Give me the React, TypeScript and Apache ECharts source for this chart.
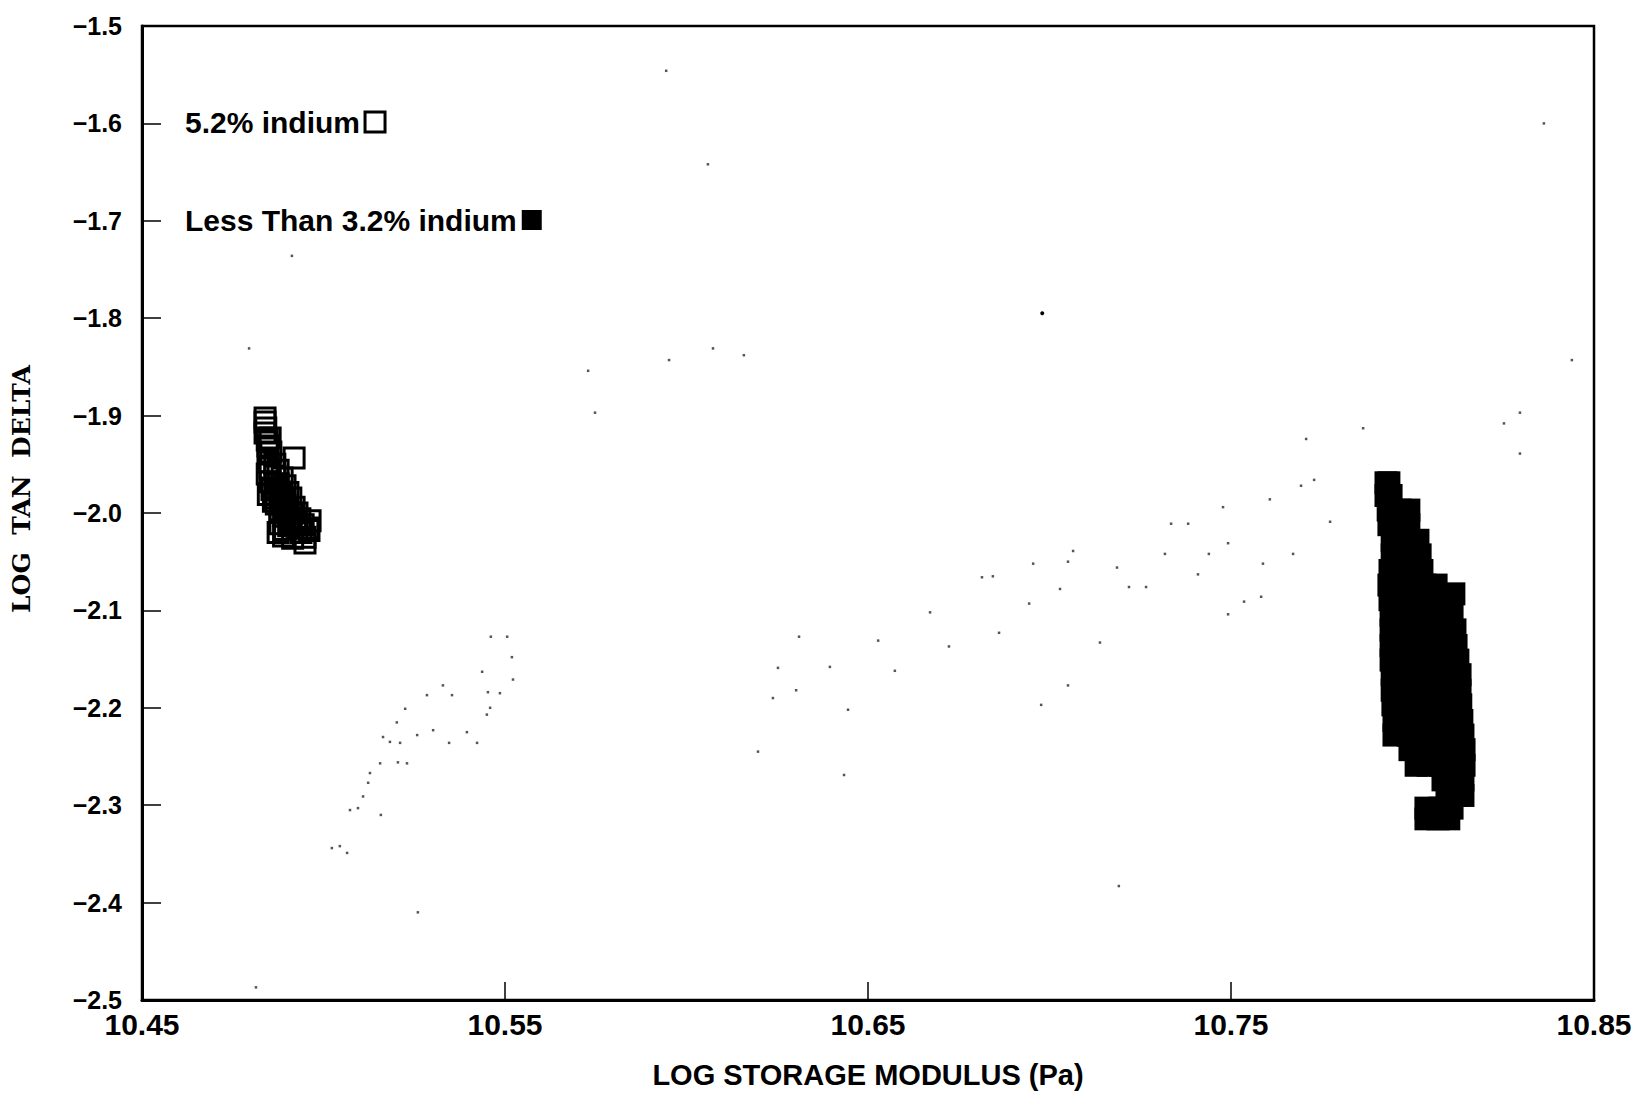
import React, { useEffect, useRef } from "react";
import * as echarts from "echarts";

const xTicks = [10.45, 10.55, 10.65, 10.75, 10.85];
const yTicks = [-1.5, -1.6, -1.7, -1.8, -1.9, -2.0, -2.1, -2.2, -2.3, -2.4, -2.5];

const openName = "5.2% indium";
const filledName = "Less Than 3.2% indium";

// 5.2% indium (open squares): [log storage modulus, log tan delta]
const openSquares: number[][] = [
  [10.4839, -1.9025], [10.4839, -1.9066], [10.4841, -1.9127], [10.4839, -1.9179],
  [10.4845, -1.9251], [10.4853, -1.923], [10.4847, -1.9312], [10.4855, -1.9374],
  [10.4919, -1.9435], [10.4847, -1.9476], [10.4866, -1.95], [10.4853, -1.9538],
  [10.4875, -1.956], [10.4845, -1.96], [10.4866, -1.962], [10.4886, -1.964],
  [10.4853, -1.968], [10.4875, -1.97], [10.4894, -1.972], [10.4858, -1.976],
  [10.488, -1.9784], [10.4902, -1.979], [10.4866, -1.9846], [10.489, -1.985],
  [10.491, -1.9846], [10.487, -1.9908], [10.4894, -1.992], [10.4919, -1.994],
  [10.488, -1.9969], [10.4902, -1.999], [10.4927, -2.0], [10.4935, -2.006],
  [10.489, -2.0031], [10.491, -2.0092], [10.4944, -2.012], [10.488, -2.011],
  [10.4927, -2.0154], [10.4957, -2.0154], [10.4875, -2.02], [10.489, -2.0236],
  [10.4949, -2.025], [10.4915, -2.026], [10.4949, -2.0308], [10.4963, -2.008],
  [10.496, -2.018], [10.4848, -1.981], [10.4862, -1.988], [10.4872, -1.974],
  [10.4885, -1.99], [10.4898, -1.996], [10.4912, -2.001], [10.4923, -2.007],
  [10.4904, -2.013], [10.4893, -2.017], [10.4938, -2.02], [10.4884, -1.982],
];

// Less than 3.2% indium (filled squares)
const filledSquares: number[][] = [
  [10.7927, -1.969], [10.7935, -1.969],
  [10.7927, -1.982], [10.7941, -1.982],
  [10.7933, -1.997], [10.7966, -1.997], [10.799, -1.997],
  [10.7935, -2.012], [10.7966, -2.012], [10.799, -2.012],
  [10.7944, -2.028], [10.7979, -2.028], [10.8015, -2.028],
  [10.7944, -2.043], [10.7979, -2.043], [10.8021, -2.043],
  [10.7938, -2.059], [10.7966, -2.059], [10.7999, -2.059], [10.8026, -2.059],
  [10.7935, -2.074], [10.7966, -2.074], [10.7999, -2.074], [10.8034, -2.074], [10.8065, -2.074],
  [10.8114, -2.083],
  [10.7938, -2.089], [10.7971, -2.089], [10.8004, -2.089], [10.8037, -2.089], [10.807, -2.089],
  [10.7941, -2.105], [10.7974, -2.105], [10.8007, -2.105], [10.804, -2.105], [10.8076, -2.105], [10.8109, -2.105],
  [10.7941, -2.12], [10.7974, -2.12], [10.8007, -2.12], [10.804, -2.12], [10.8076, -2.12], [10.8117, -2.12],
  [10.7941, -2.136], [10.7974, -2.136], [10.8007, -2.136], [10.8043, -2.136], [10.8081, -2.136], [10.812, -2.136],
  [10.7941, -2.151], [10.7977, -2.151], [10.8012, -2.151], [10.8048, -2.151], [10.8084, -2.151], [10.8125, -2.151],
  [10.7944, -2.166], [10.7979, -2.166], [10.8015, -2.166], [10.8051, -2.166], [10.8092, -2.166], [10.8131, -2.166],
  [10.7944, -2.182], [10.7979, -2.182], [10.8015, -2.182], [10.8051, -2.182], [10.8092, -2.182], [10.8131, -2.182],
  [10.7946, -2.197], [10.7982, -2.197], [10.8018, -2.197], [10.8054, -2.197], [10.8095, -2.197], [10.8133, -2.197],
  [10.7949, -2.213], [10.7985, -2.213], [10.8021, -2.213], [10.8056, -2.213], [10.8098, -2.213], [10.8136, -2.213],
  [10.7949, -2.228], [10.7988, -2.228], [10.8023, -2.228], [10.8059, -2.228], [10.81, -2.228], [10.8139, -2.228],
  [10.7993, -2.243], [10.8026, -2.243], [10.8065, -2.243], [10.8103, -2.243], [10.8142, -2.243],
  [10.801, -2.259], [10.8043, -2.259], [10.8076, -2.259], [10.8109, -2.259], [10.8142, -2.259],
  [10.8084, -2.274], [10.8111, -2.274], [10.8139, -2.274],
  [10.8095, -2.29], [10.812, -2.29], [10.8139, -2.29],
  [10.8037, -2.303], [10.8076, -2.303], [10.8109, -2.303],
  [10.8037, -2.314], [10.807, -2.314], [10.81, -2.314],
];

// faint specks scattered across the plot
const specks: number[][] = [
  [10.5023, -2.344], [10.5065, -2.349], [10.5073, -2.305], [10.5095, -2.303], [10.5109, -2.291],
  [10.5123, -2.277], [10.5128, -2.267], [10.5164, -2.23], [10.5183, -2.235], [10.5211, -2.236],
  [10.5156, -2.257], [10.5205, -2.256], [10.523, -2.257], [10.5225, -2.201], [10.5202, -2.215],
  [10.5285, -2.187], [10.5329, -2.177], [10.5354, -2.187], [10.5258, -2.228], [10.5302, -2.223],
  [10.5346, -2.236], [10.5395, -2.225], [10.545, -2.207], [10.5453, -2.184], [10.5437, -2.163],
  [10.5519, -2.148], [10.5506, -2.127], [10.5522, -2.171], [10.5486, -2.185], [10.5459, -2.2],
  [10.5423, -2.236], [10.5158, -2.31], [10.5045, -2.342], [10.5461, -2.127], [10.6302, -2.182],
  [10.6434, -2.269], [10.6197, -2.245], [10.6395, -2.158], [10.6528, -2.131], [10.6574, -2.162],
  [10.6671, -2.102], [10.6723, -2.137], [10.6814, -2.066], [10.6844, -2.065], [10.6861, -2.123],
  [10.6944, -2.093], [10.6955, -2.052], [10.7029, -2.078], [10.7051, -2.177], [10.6977, -2.197],
  [10.7051, -2.05], [10.7065, -2.039], [10.7139, -2.133], [10.7186, -2.056], [10.7219, -2.076],
  [10.7266, -2.076], [10.7318, -2.042], [10.7335, -2.011], [10.7382, -2.011], [10.7409, -2.063],
  [10.7439, -2.042], [10.7478, -1.994], [10.7492, -2.104], [10.7536, -2.091], [10.7583, -2.086],
  [10.7607, -1.986], [10.7693, -1.972], [10.7729, -1.966], [10.7671, -2.042], [10.7773, -2.009],
  [10.7492, -2.031], [10.7588, -2.052], [10.5944, -1.546], [10.6059, -1.642], [10.5952, -1.843],
  [10.6073, -1.831], [10.6158, -1.838], [10.5729, -1.854], [10.5748, -1.897], [10.6238, -2.19],
  [10.6252, -2.159], [10.631, -2.127], [10.6445, -2.202], [10.7191, -2.383], [10.526, -2.41],
  [10.4814, -2.487], [10.8439, -1.843], [10.8296, -1.897], [10.8252, -1.908], [10.8296, -1.939],
  [10.8362, -1.6], [10.7707, -1.924], [10.7864, -1.913], [10.4913, -1.736], [10.4795, -1.831],
];
const bigSpeck: number[][] = [[10.698, -1.795]];

const tickFont = "'Liberation Sans', Arial, sans-serif";

const legendText = { fontSize: 30, fontWeight: "bold", color: "#000", fontFamily: tickFont };

export default function App() {
  const ref = useRef<HTMLDivElement>(null);
  useEffect(() => {
    if (!ref.current) return;
    const chart = echarts.init(ref.current, null, { renderer: "svg" });
    chart.setOption({
      animation: false,
      backgroundColor: "#fff",
      grid: {
        left: 142,
        right: 44,
        top: 26,
        bottom: 97,
        show: true,
        borderColor: "#000",
        borderWidth: 2.5,
        backgroundColor: "transparent",
      },
      legend: [
        {
          data: [
            {
              name: openName,
              icon: "rect",
              itemStyle: { color: "#fff", borderColor: "#000", borderWidth: 3, opacity: 1 },
            },
          ],
          left: 180,
          top: 102,
          align: "right",
          itemWidth: 20,
          itemHeight: 20,
          selectedMode: false,
          textStyle: legendText,
        },
        {
          data: [{ name: filledName, icon: "rect", itemStyle: { color: "#000", borderWidth: 0, opacity: 1 } }],
          left: 180,
          top: 200,
          align: "right",
          itemWidth: 20,
          itemHeight: 20,
          selectedMode: false,
          textStyle: legendText,
        },
      ],
      xAxis: {
        type: "value",
        min: xTicks[0],
        max: xTicks[xTicks.length - 1],
        interval: 0.1,
        name: "LOG STORAGE MODULUS (Pa)",
        nameLocation: "middle",
        nameGap: 60,
        nameTextStyle: { fontSize: 29, fontWeight: "bold", color: "#000", fontFamily: tickFont },
        axisLine: { show: true, onZero: false, lineStyle: { color: "#000", width: 3 } },
        axisTick: { show: true, inside: true, length: 18, lineStyle: { color: "#000", width: 1.5 } },
        axisLabel: {
          margin: 9,
          fontSize: 30,
          fontWeight: "bold",
          color: "#000",
          fontFamily: tickFont,
          formatter: (v: number) => v.toFixed(2),
        },
        splitLine: { show: false },
      },
      yAxis: {
        type: "value",
        min: yTicks[yTicks.length - 1],
        max: yTicks[0],
        interval: 0.1,
        name: "LOG  TAN  DELTA",
        nameLocation: "middle",
        nameGap: 108,
        nameTextStyle: {
          fontSize: 25,
          fontWeight: "bold",
          color: "#000",
          fontFamily: "'DejaVu Serif', 'Liberation Serif', serif",
          padding: [0, 0, 0, 48],
        },
        axisLine: { show: true, onZero: false, lineStyle: { color: "#000", width: 3 } },
        axisTick: { show: true, inside: true, length: 19, lineStyle: { color: "#000", width: 1.5 } },
        axisLabel: {
          margin: 20,
          fontSize: 25,
          fontWeight: "bold",
          color: "#000",
          fontFamily: tickFont,
          formatter: (v: number) => v.toFixed(1).replace("-", "\u2212"),
        },
        splitLine: { show: false },
      },
      series: [
        {
          name: "specks",
          type: "scatter",
          data: specks,
          symbol: "rect",
          symbolSize: 2.5,
          itemStyle: { color: "#555", opacity: 1 },
          z: 1,
          silent: true,
        },
        {
          name: "speck",
          type: "scatter",
          data: bigSpeck,
          symbol: "circle",
          symbolSize: 4,
          itemStyle: { color: "#000", opacity: 1 },
          z: 1,
          silent: true,
        },
        {
          name: openName,
          type: "scatter",
          data: openSquares,
          symbol: "rect",
          symbolSize: 20,
          itemStyle: { color: "rgba(255,255,255,0)", borderColor: "#000", borderWidth: 3, opacity: 1 },
          z: 3,
        },
        {
          name: filledName,
          type: "scatter",
          data: filledSquares,
          symbol: "rect",
          symbolSize: 23,
          itemStyle: { color: "#000", opacity: 1 },
          z: 3,
        },
      ],
    });
    return () => chart.dispose();
  }, []);
  return (
    <div
      ref={ref}
      style={{ position: "fixed", left: 0, top: 0, width: 1638, height: 1097, background: "#fff" }}
    />
  );
}
